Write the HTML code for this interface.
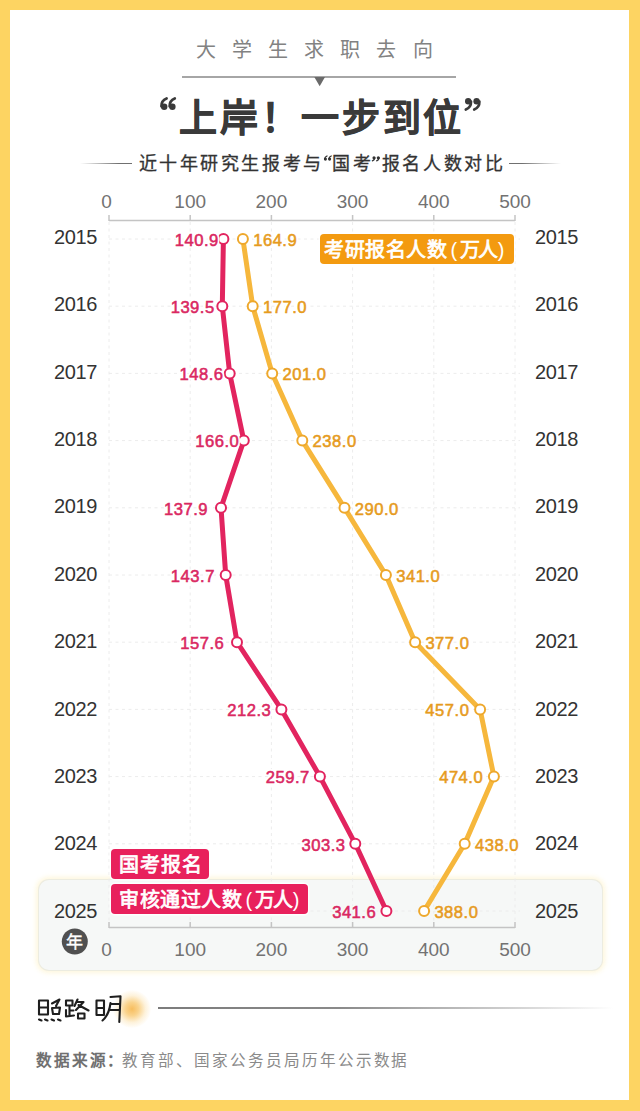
<!DOCTYPE html>
<html lang="zh-CN"><head><meta charset="utf-8">
<style>
html,body{margin:0;padding:0;}
body{width:640px;height:1111px;position:relative;overflow:hidden;background:#FDD462;font-family:"Liberation Sans",sans-serif;}
.card{position:absolute;left:10px;top:10px;width:619px;height:1090px;background:#FFFFFF;}
.abs{position:absolute;white-space:nowrap;}
svg{position:absolute;left:0;top:0;}
.ax{font-size:19px;fill:#727272;font-family:"Liberation Sans",sans-serif;}
.yr{font-size:20px;letter-spacing:-0.4px;fill:#333;font-family:"Liberation Sans",sans-serif;}
.lp{font-size:16.6px;letter-spacing:0.5px;stroke:#DA2862;stroke-width:0.55px;fill:#DA2862;font-family:"Liberation Sans",sans-serif;}
.lo{font-size:16.6px;letter-spacing:0.5px;stroke:#E69B1E;stroke-width:0.55px;fill:#E69B1E;font-family:"Liberation Sans",sans-serif;}
.halo{stroke:#fff;fill:#fff;stroke-width:4px;stroke-linejoin:round;}
.halo2{stroke:#F6F8F7;fill:#F6F8F7;stroke-width:4px;stroke-linejoin:round;}
.nian{font-size:17px;fill:#fff;stroke:#fff;stroke-width:0.4px;}
.tag{box-shadow:0 0 0 1.5px rgba(255,255,255,0.85);position:absolute;color:#fff;font-size:20px;font-weight:normal;-webkit-text-stroke:0.75px #fff;line-height:33px;height:30px;border-radius:4px;padding:0 8px;white-space:nowrap;}
.pl{margin:0 2px 0 6px;-webkit-text-stroke:0;} .pr{margin:0 0 0 2px;-webkit-text-stroke:0;}
.q1{font-size:25px;font-weight:normal;-webkit-text-stroke:0.5px #333;margin:0 -4.5px 0 -2px;line-height:10px;position:relative;top:4px;} .q2{font-size:25px;font-weight:normal;-webkit-text-stroke:0.5px #333;margin:0 -3.5px 0 -3px;line-height:10px;position:relative;top:4px;}
</style></head><body>
<div class="card"></div>
<div class="abs" style="left:38.5px;top:880px;width:563px;height:90px;border-radius:10px;background:#F6F8F7;box-shadow:0 0 0 1px rgba(234,234,224,0.9),0 0 5px 3px rgba(253,244,205,0.7);"></div>
<div class="abs" style="left:196px;top:35.6px;font-size:20px;color:#828282;letter-spacing:16.1px;line-height:28px;">大学生求职去向</div>
<div class="abs" style="left:182px;top:76.4px;width:274px;height:1.6px;background:#A6A6A6;"></div>
<svg width="640" height="1111" viewBox="0 0 640 1111" style="pointer-events:none">
<polygon points="314.3,77 325,77 319.7,86.3" fill="#6A6A6A"/>
</svg>
<div class="abs" style="left:158px;top:91px;font-size:38px;letter-spacing:2.7px;font-weight:bold;-webkit-text-stroke:0.6px #3A3A3A;color:#3A3A3A;line-height:54px;"><span style="display:inline-block;width:21.2px"></span>上岸！一步到位</div>
<svg width="640" height="1111" viewBox="0 0 640 1111" style="position:absolute;left:0;top:0"><g fill="#3A3A3A" stroke="#3A3A3A" stroke-linecap="round" fill-opacity="1"><circle cx="164.2" cy="106.7" r="3.2" stroke="none"/><path d="M161.4,106.3 Q161.2,100.6 166.6,98.4" stroke-width="2.7" fill="none"/><circle cx="172.4" cy="106.7" r="3.2" stroke="none"/><path d="M169.6,106.3 Q169.4,100.6 174.8,98.4" stroke-width="2.7" fill="none"/><circle cx="468.2" cy="101.2" r="3.2" stroke="none"/><path d="M471.0,101.6 Q471.2,107.3 465.8,109.5" stroke-width="2.7" fill="none"/><circle cx="476.6" cy="101.2" r="3.2" stroke="none"/><path d="M479.4,101.6 Q479.6,107.3 474.2,109.5" stroke-width="2.7" fill="none"/></g></svg>
<div class="abs" style="left:80px;top:162.5px;width:52px;height:1.4px;background:linear-gradient(90deg,rgba(110,110,110,0),#707070 75%);"></div>
<div class="abs" style="left:509px;top:162.5px;width:52px;height:1.4px;background:linear-gradient(90deg,#707070 25%,rgba(110,110,110,0));"></div>
<div class="abs" style="left:138.5px;top:149.5px;font-size:18px;letter-spacing:2.6px;font-weight:normal;-webkit-text-stroke:0.3px #333;color:#333;line-height:28px;">近十年研究生报考与<span style="display:inline-block;width:8.4px"></span>国考<span style="display:inline-block;width:8.3px"></span>报名人数对比</div>
<svg width="640" height="1111" viewBox="0 0 640 1111" style="position:absolute;left:0;top:0"><g fill="#333" stroke="#333" stroke-linecap="round">
<circle cx="325.4" cy="159.1" r="1.55" stroke="none"/><path d="M324.6,158.8 Q325,156.9 327,156" stroke-width="1.3" fill="none"/>
<circle cx="329.6" cy="159.1" r="1.55" stroke="none"/><path d="M328.8,158.8 Q329.2,156.9 331.2,156" stroke-width="1.3" fill="none"/>
<circle cx="374.0" cy="157.7" r="1.55" stroke="none"/><path d="M374.8,158 Q374.4,159.9 372.4,160.8" stroke-width="1.3" fill="none"/>
<circle cx="378.3" cy="157.7" r="1.55" stroke="none"/><path d="M379.1,158 Q378.7,159.9 376.7,160.8" stroke-width="1.3" fill="none"/>
</g></svg>
<svg width="640" height="1111" viewBox="0 0 640 1111">
<line x1="109.0" y1="222" x2="109.0" y2="926" stroke="#ECECEC" stroke-width="1" stroke-dasharray="3 3.5"/>
<line x1="190.2" y1="222" x2="190.2" y2="926" stroke="#ECECEC" stroke-width="1" stroke-dasharray="3 3.5"/>
<line x1="271.4" y1="222" x2="271.4" y2="926" stroke="#ECECEC" stroke-width="1" stroke-dasharray="3 3.5"/>
<line x1="352.6" y1="222" x2="352.6" y2="926" stroke="#ECECEC" stroke-width="1" stroke-dasharray="3 3.5"/>
<line x1="433.8" y1="222" x2="433.8" y2="926" stroke="#ECECEC" stroke-width="1" stroke-dasharray="3 3.5"/>
<line x1="515.0" y1="222" x2="515.0" y2="926" stroke="#ECECEC" stroke-width="1" stroke-dasharray="3 3.5"/>
<line x1="109.0" y1="239.0" x2="520.0" y2="239.0" stroke="#ECECEC" stroke-width="1" stroke-dasharray="3 3.5"/>
<line x1="109.0" y1="306.2" x2="520.0" y2="306.2" stroke="#ECECEC" stroke-width="1" stroke-dasharray="3 3.5"/>
<line x1="109.0" y1="373.4" x2="520.0" y2="373.4" stroke="#ECECEC" stroke-width="1" stroke-dasharray="3 3.5"/>
<line x1="109.0" y1="440.6" x2="520.0" y2="440.6" stroke="#ECECEC" stroke-width="1" stroke-dasharray="3 3.5"/>
<line x1="109.0" y1="507.8" x2="520.0" y2="507.8" stroke="#ECECEC" stroke-width="1" stroke-dasharray="3 3.5"/>
<line x1="109.0" y1="575.0" x2="520.0" y2="575.0" stroke="#ECECEC" stroke-width="1" stroke-dasharray="3 3.5"/>
<line x1="109.0" y1="642.2" x2="520.0" y2="642.2" stroke="#ECECEC" stroke-width="1" stroke-dasharray="3 3.5"/>
<line x1="109.0" y1="709.4" x2="520.0" y2="709.4" stroke="#ECECEC" stroke-width="1" stroke-dasharray="3 3.5"/>
<line x1="109.0" y1="776.6" x2="520.0" y2="776.6" stroke="#ECECEC" stroke-width="1" stroke-dasharray="3 3.5"/>
<line x1="109.0" y1="843.8" x2="520.0" y2="843.8" stroke="#ECECEC" stroke-width="1" stroke-dasharray="3 3.5"/>
<line x1="109.0" y1="911.0" x2="520.0" y2="911.0" stroke="#ECECEC" stroke-width="1" stroke-dasharray="3 3.5"/>
<line x1="109.0" y1="220.5" x2="515.0" y2="220.5" stroke="#C4C4C4" stroke-width="1.5"/>
<line x1="109.0" y1="215" x2="109.0" y2="221" stroke="#C4C4C4" stroke-width="1.5"/>
<text x="106.5" y="207.5" text-anchor="middle" class="ax">0</text>
<line x1="190.2" y1="215" x2="190.2" y2="221" stroke="#C4C4C4" stroke-width="1.5"/>
<text x="190.2" y="207.5" text-anchor="middle" class="ax">100</text>
<line x1="271.4" y1="215" x2="271.4" y2="221" stroke="#C4C4C4" stroke-width="1.5"/>
<text x="271.4" y="207.5" text-anchor="middle" class="ax">200</text>
<line x1="352.6" y1="215" x2="352.6" y2="221" stroke="#C4C4C4" stroke-width="1.5"/>
<text x="352.6" y="207.5" text-anchor="middle" class="ax">300</text>
<line x1="433.8" y1="215" x2="433.8" y2="221" stroke="#C4C4C4" stroke-width="1.5"/>
<text x="433.8" y="207.5" text-anchor="middle" class="ax">400</text>
<line x1="515.0" y1="215" x2="515.0" y2="221" stroke="#C4C4C4" stroke-width="1.5"/>
<text x="515.0" y="207.5" text-anchor="middle" class="ax">500</text>
<line x1="109.0" y1="927.5" x2="515.0" y2="927.5" stroke="#C4C4C4" stroke-width="1.5"/>
<line x1="109.0" y1="922" x2="109.0" y2="928" stroke="#C4C4C4" stroke-width="1.5"/>
<text x="106.5" y="956" text-anchor="middle" class="ax">0</text>
<line x1="190.2" y1="922" x2="190.2" y2="928" stroke="#C4C4C4" stroke-width="1.5"/>
<text x="190.2" y="956" text-anchor="middle" class="ax">100</text>
<line x1="271.4" y1="922" x2="271.4" y2="928" stroke="#C4C4C4" stroke-width="1.5"/>
<text x="271.4" y="956" text-anchor="middle" class="ax">200</text>
<line x1="352.6" y1="922" x2="352.6" y2="928" stroke="#C4C4C4" stroke-width="1.5"/>
<text x="352.6" y="956" text-anchor="middle" class="ax">300</text>
<line x1="433.8" y1="922" x2="433.8" y2="928" stroke="#C4C4C4" stroke-width="1.5"/>
<text x="433.8" y="956" text-anchor="middle" class="ax">400</text>
<line x1="515.0" y1="922" x2="515.0" y2="928" stroke="#C4C4C4" stroke-width="1.5"/>
<text x="515.0" y="956" text-anchor="middle" class="ax">500</text>
<text x="54" y="244.0" class="yr">2015</text>
<text x="535" y="244.0" class="yr">2015</text>
<text x="54" y="311.3" class="yr">2016</text>
<text x="535" y="311.3" class="yr">2016</text>
<text x="54" y="378.7" class="yr">2017</text>
<text x="535" y="378.7" class="yr">2017</text>
<text x="54" y="446.1" class="yr">2018</text>
<text x="535" y="446.1" class="yr">2018</text>
<text x="54" y="513.4" class="yr">2019</text>
<text x="535" y="513.4" class="yr">2019</text>
<text x="54" y="580.8" class="yr">2020</text>
<text x="535" y="580.8" class="yr">2020</text>
<text x="54" y="648.1" class="yr">2021</text>
<text x="535" y="648.1" class="yr">2021</text>
<text x="54" y="715.5" class="yr">2022</text>
<text x="535" y="715.5" class="yr">2022</text>
<text x="54" y="782.8" class="yr">2023</text>
<text x="535" y="782.8" class="yr">2023</text>
<text x="54" y="850.2" class="yr">2024</text>
<text x="535" y="850.2" class="yr">2024</text>
<text x="54" y="917.5" class="yr">2025</text>
<text x="535" y="917.5" class="yr">2025</text>
<polyline points="242.9,239.0 252.7,306.2 272.2,373.4 302.3,440.6 344.5,507.8 385.9,575.0 415.1,642.2 480.1,709.4 493.9,776.6 464.7,843.8 424.1,911.0" fill="none" stroke="#F6B73C" stroke-width="5" stroke-linejoin="round"/>
<polyline points="223.4,239.0 222.3,306.2 229.7,373.4 243.8,440.6 221.0,507.8 225.7,575.0 237.0,642.2 281.4,709.4 319.9,776.6 355.3,843.8 386.4,911.0" fill="none" stroke="#E2245F" stroke-width="5" stroke-linejoin="round"/>
<circle cx="242.9" cy="239.0" r="5" fill="#fff" stroke="#EEA82C" stroke-width="2"/>
<text x="253.2" y="245.7" class="lo halo">164.9</text>
<text x="253.2" y="245.7" class="lo">164.9</text>
<circle cx="252.7" cy="306.2" r="5" fill="#fff" stroke="#EEA82C" stroke-width="2"/>
<text x="263.0" y="312.9" class="lo halo">177.0</text>
<text x="263.0" y="312.9" class="lo">177.0</text>
<circle cx="272.2" cy="373.4" r="5" fill="#fff" stroke="#EEA82C" stroke-width="2"/>
<text x="282.5" y="380.1" class="lo halo">201.0</text>
<text x="282.5" y="380.1" class="lo">201.0</text>
<circle cx="302.3" cy="440.6" r="5" fill="#fff" stroke="#EEA82C" stroke-width="2"/>
<text x="312.6" y="447.3" class="lo halo">238.0</text>
<text x="312.6" y="447.3" class="lo">238.0</text>
<circle cx="344.5" cy="507.8" r="5" fill="#fff" stroke="#EEA82C" stroke-width="2"/>
<text x="354.8" y="514.5" class="lo halo">290.0</text>
<text x="354.8" y="514.5" class="lo">290.0</text>
<circle cx="385.9" cy="575.0" r="5" fill="#fff" stroke="#EEA82C" stroke-width="2"/>
<text x="396.2" y="581.7" class="lo halo">341.0</text>
<text x="396.2" y="581.7" class="lo">341.0</text>
<circle cx="415.1" cy="642.2" r="5" fill="#fff" stroke="#EEA82C" stroke-width="2"/>
<text x="425.4" y="648.9" class="lo halo">377.0</text>
<text x="425.4" y="648.9" class="lo">377.0</text>
<circle cx="480.1" cy="709.4" r="5" fill="#fff" stroke="#EEA82C" stroke-width="2"/>
<text x="469.4" y="716.1" text-anchor="end" class="lo halo">457.0</text>
<text x="469.4" y="716.1" text-anchor="end" class="lo">457.0</text>
<circle cx="493.9" cy="776.6" r="5" fill="#fff" stroke="#EEA82C" stroke-width="2"/>
<text x="483.2" y="783.3" text-anchor="end" class="lo halo">474.0</text>
<text x="483.2" y="783.3" text-anchor="end" class="lo">474.0</text>
<circle cx="464.7" cy="843.8" r="5" fill="#fff" stroke="#EEA82C" stroke-width="2"/>
<text x="475.0" y="850.5" class="lo halo">438.0</text>
<text x="475.0" y="850.5" class="lo">438.0</text>
<circle cx="424.1" cy="911.0" r="5" fill="#fff" stroke="#EEA82C" stroke-width="2"/>
<text x="434.4" y="917.7" class="lo halo2">388.0</text>
<text x="434.4" y="917.7" class="lo">388.0</text>
<circle cx="223.4" cy="239.0" r="5" fill="#fff" stroke="#E2245F" stroke-width="2"/>
<text x="218.8" y="245.7" text-anchor="end" class="lp halo">140.9</text>
<text x="218.8" y="245.7" text-anchor="end" class="lp">140.9</text>
<circle cx="222.3" cy="306.2" r="5" fill="#fff" stroke="#E2245F" stroke-width="2"/>
<text x="214.7" y="312.9" text-anchor="end" class="lp halo">139.5</text>
<text x="214.7" y="312.9" text-anchor="end" class="lp">139.5</text>
<circle cx="229.7" cy="373.4" r="5" fill="#fff" stroke="#E2245F" stroke-width="2"/>
<text x="223.6" y="380.1" text-anchor="end" class="lp halo">148.6</text>
<text x="223.6" y="380.1" text-anchor="end" class="lp">148.6</text>
<circle cx="243.8" cy="440.6" r="5" fill="#fff" stroke="#E2245F" stroke-width="2"/>
<text x="239.3" y="447.3" text-anchor="end" class="lp halo">166.0</text>
<text x="239.3" y="447.3" text-anchor="end" class="lp">166.0</text>
<circle cx="221.0" cy="507.8" r="5" fill="#fff" stroke="#E2245F" stroke-width="2"/>
<text x="208.0" y="514.5" text-anchor="end" class="lp halo">137.9</text>
<text x="208.0" y="514.5" text-anchor="end" class="lp">137.9</text>
<circle cx="225.7" cy="575.0" r="5" fill="#fff" stroke="#E2245F" stroke-width="2"/>
<text x="214.9" y="581.7" text-anchor="end" class="lp halo">143.7</text>
<text x="214.9" y="581.7" text-anchor="end" class="lp">143.7</text>
<circle cx="237.0" cy="642.2" r="5" fill="#fff" stroke="#E2245F" stroke-width="2"/>
<text x="224.3" y="648.9" text-anchor="end" class="lp halo">157.6</text>
<text x="224.3" y="648.9" text-anchor="end" class="lp">157.6</text>
<circle cx="281.4" cy="709.4" r="5" fill="#fff" stroke="#E2245F" stroke-width="2"/>
<text x="271.3" y="716.1" text-anchor="end" class="lp halo">212.3</text>
<text x="271.3" y="716.1" text-anchor="end" class="lp">212.3</text>
<circle cx="319.9" cy="776.6" r="5" fill="#fff" stroke="#E2245F" stroke-width="2"/>
<text x="309.8" y="783.3" text-anchor="end" class="lp halo">259.7</text>
<text x="309.8" y="783.3" text-anchor="end" class="lp">259.7</text>
<circle cx="355.3" cy="843.8" r="5" fill="#fff" stroke="#E2245F" stroke-width="2"/>
<text x="345.5" y="850.5" text-anchor="end" class="lp halo">303.3</text>
<text x="345.5" y="850.5" text-anchor="end" class="lp">303.3</text>
<circle cx="386.4" cy="911.0" r="5" fill="#fff" stroke="#E2245F" stroke-width="2"/>
<text x="376.2" y="917.7" text-anchor="end" class="lp halo2">341.6</text>
<text x="376.2" y="917.7" text-anchor="end" class="lp">341.6</text>
<circle cx="74.8" cy="941.5" r="13" fill="#505050"/>
<text x="74.8" y="948" text-anchor="middle" class="nian">年</text>
</svg>
<div class="tag" style="left:320px;top:234px;line-height:33px;height:30px;background:#F39A10;padding:0 9.5px 0 4px;letter-spacing:0.5px;">考研报名人数<span class="pl" style="margin-left:3.5px">(</span><span style="letter-spacing:-2px">万人</span><span class="pr">)</span></div>
<div class="tag" style="left:111px;top:849px;background:#E8215C;padding:0 5.5px 0 8px;letter-spacing:1.1px;">国考报名</div>
<div class="tag" style="left:111px;top:884px;background:#E8215C;padding:0 8.5px 0 8px;letter-spacing:0.5px;">审核通过人数<span class="pl" style="margin-left:3.5px">(</span><span style="letter-spacing:-2px">万人</span><span class="pr">)</span></div>
<div class="abs" style="left:113px;top:990px;width:38px;height:38px;border-radius:50%;background:radial-gradient(circle,rgba(246,178,66,0.85) 0%,rgba(247,188,80,0.65) 25%,rgba(250,212,135,0.3) 50%,rgba(255,240,200,0) 72%);"></div>
<svg width="640" height="1111" viewBox="0 0 640 1111" style="position:absolute;left:0;top:0"><g fill="none" stroke="#1e1e1e" stroke-width="2.1" stroke-linecap="round" stroke-linejoin="round">
<path d="M39,1001 L39,1014.5 M39,1000.5 L48,1000.5 L48,1014 M40,1007.5 L47.5,1007.5 M39,1014.5 L48,1014.5"/>
<path d="M52,1003.5 L59.5,999.5 L56,1006 M52,1008 L60,1007.5 L59,1014 L53,1014 Z"/>
<path d="M39,1019.5 L41.5,1020.5 M45,1019.5 L47.5,1020.5 M51.5,1019.5 L54,1020.5 M58,1019.5 L60.5,1020.5"/>
<path d="M66,1000.5 L72.5,1000.5 L72.5,1005.5 L66,1005.5 Z M69.5,1006 L69.5,1016 M69.5,1010.5 L73.5,1010.5 M66,1010 L66,1016.5 L74,1015.5"/>
<path d="M77.5,999.5 L74.5,1006 M77,1002 L83.5,1002 L76,1010 M78.5,1005 L88.5,1010.5 M78,1013.5 L84.5,1013.5 L84.5,1018.5 L78,1018.5 Z"/>
<path d="M96.5,1000.5 L104,1000.5 L104,1015 L96.5,1015 Z M97,1008 L104,1008"/>
<path d="M110.5,997 L120.5,996.3 L119.3,1022 M110.5,1003 Q109,1015 102.5,1020.5 M110.5,1004 L119.3,1004 M109.5,1010 L119.3,1010"/>
</g></svg>
<div class="abs" style="left:157.5px;top:1007px;width:455px;height:1.5px;background:linear-gradient(90deg,#7c7c7c 0%,#8a8a8a 40%,rgba(170,170,170,0.5) 80%,rgba(200,200,200,0));"></div>
<div class="abs" style="left:35.5px;top:1047px;font-size:15.6px;letter-spacing:2.25px;color:#707070;line-height:28px;"><b>数据来源<span style="margin:0 -3px 0 -1.5px">：</span></b><span style="color:#8A8A8A;letter-spacing:1.95px">教育部、国家公务员局历年公示数据</span></div>
</body></html>
